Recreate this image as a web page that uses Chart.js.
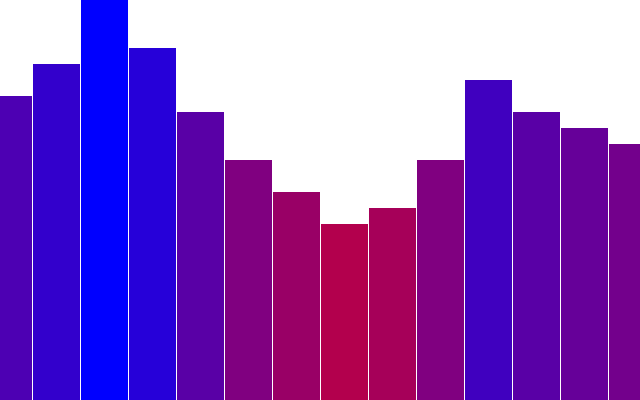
<!DOCTYPE html>
<html>
<head>
<meta charset="utf-8">
<style>
  html, body { margin: 0; padding: 0; background: #fff; }
  #wrap { width: 640px; height: 400px; }
</style>
</head>
<body>
<div id="wrap"><canvas id="myChart"></canvas></div>
<script src="https://cdn.jsdelivr.net/npm/chart.js"></script>
<script>
    // bar values (top of plot = 25)
    const positions = [0, 1, 2, 3, 4, 5, 6, 7, 8, 9, 10, 11, 12, 13];
    const values = [19, 21, 25, 22, 18, 15, 13, 11, 12, 15, 20, 18, 17, 16];
    const yMax = 25;

    // colour runs from blue (tall) to crimson (short)
    function barColor(v) {
        const t = (yMax - v) / 20;
        const r = Math.round(255 * t);
        const b = Math.round(255 * (1 - t));
        return `rgb(${r}, 0, ${b})`;
    }

    new Chart(document.getElementById("myChart"), {
        type: "bar",
        data: {
            datasets: [{
                data: positions.map((x, i) => ({ x: x, y: values[i] })),
                backgroundColor: values.map(barColor),
                borderWidth: 0,
                barPercentage: 47 / 48,
                categoryPercentage: 1
            }]
        },
        options: {
            responsive: true,
            maintainAspectRatio: false,
            animation: false,
            layout: { padding: 0 },
            plugins: {
                legend: { display: false },
                tooltip: { enabled: false }
            },
            scales: {
                x: {
                    type: "linear",
                    display: false,
                    offset: false,
                    bounds: "ticks",
                    min: -1 / 6 - 1 / 96,
                    max: 13 + 1 / 6 - 1 / 96
                },
                y: {
                    display: false,
                    min: 0,
                    max: yMax
                }
            }
        }
    });
</script>
</body>
</html>
